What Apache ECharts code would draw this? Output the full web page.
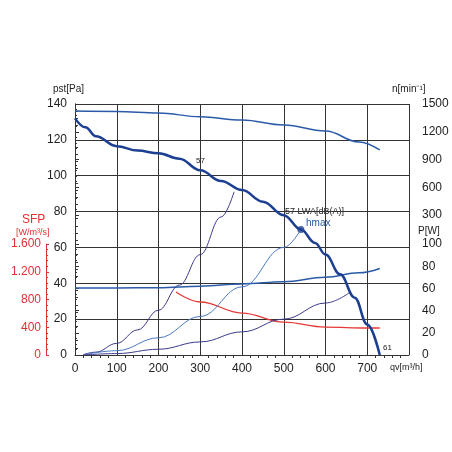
<!DOCTYPE html><html><head><meta charset="utf-8"><script src="https://cdn.jsdelivr.net/npm/echarts@6/dist/echarts.min.js"></script>
<style>html,body{margin:0;background:#fff}#c{width:452px;height:452px}</style></head><body><div id="c"></div><script>
const pressure=[[0,132],[25,127],[50,122],[100,116.5],[150,114],[200,112.5],[250,109.5],[300,103],[350,97],[400,92],[450,85.5],[500,78],[541,70],[575,62.5],[600,56],[635,45],[670,32],[700,17],[730,0]];
const speed=[[0,1424],[100,1420],[200,1403],[300,1362],[400,1327],[500,1273],[600,1208],[680,1090],[730,1003]];
const power=[[0,60.4],[100,60.4],[200,60.6],[300,62],[400,64],[500,66],[600,70],[680,74],[730,78]];
const sfp=[[242,908],[300,764],[400,605],[500,475],[600,403],[700,389],[730,389]];
const sys1=[[20,0.2],[50,1.6],[100,6.5],[150,14],[200,25],[250,39],[300,56],[350,77],[381,91]];
const sys2=[[20,0.1],[100,2.4],[200,9.6],[300,21.5],[400,38],[500,60],[541,70]];
const sys3=[[20,0],[100,0.8],[200,3.2],[300,7.3],[400,12.9],[500,20],[600,29],[659,35]];
const hmax=[[541,70]];
const F='Liberation Sans, Arial, sans-serif';
const ax={fontFamily:F,fontSize:12,color:'#222'};
const hx=i=>({gridIndex:i,type:'value',min:0,max:800,show:false});
const c=echarts.init(document.getElementById('c'));
c.setOption({animation:false,
grid:[{left:75,right:43,top:104,bottom:97},{left:75,right:43,top:104,bottom:237},{left:75,right:43,top:244,bottom:97}],
xAxis:[{gridIndex:0,type:'value',min:0,max:800,interval:100,axisLabel:{...ax,formatter:v=>v==800?'':v},
 axisLine:{lineStyle:{color:'#333'}},axisTick:{show:true,length:-4,lineStyle:{color:'#333'}},minorTick:{show:true,splitNumber:5,length:3,lineStyle:{color:'#333'}},
 splitLine:{show:true,lineStyle:{color:'#333',width:1}}},hx(1),hx(2)],
yAxis:[{gridIndex:0,type:'value',min:0,max:140,interval:20,axisLabel:{...ax},axisLine:{show:true,lineStyle:{color:'#333'}},axisTick:{show:true,length:4,inside:true,lineStyle:{color:'#333'}},minorTick:{show:true,splitNumber:5,length:3,lineStyle:{color:'#333'}},splitLine:{show:true,lineStyle:{color:'#333',width:1}}},
 {gridIndex:1,type:'value',position:'right',offset:9,min:300,max:1500,interval:300,axisLabel:{...ax,margin:4,formatter:v=>String(v)},axisLine:{show:true,lineStyle:{color:'#333'}},axisTick:{show:true,length:4,lineStyle:{color:'#333'}},minorTick:{show:true,splitNumber:5,length:2,lineStyle:{color:'#333'}},splitLine:{show:false}},
 {gridIndex:2,type:'value',position:'right',offset:9,min:0,max:100,interval:20,axisLabel:{...ax,margin:4},axisLine:{show:true,lineStyle:{color:'#333'}},axisTick:{show:true,length:4,lineStyle:{color:'#333'}},minorTick:{show:true,splitNumber:4,length:2,lineStyle:{color:'#333'}},splitLine:{show:false}},
 {gridIndex:2,type:'value',position:'left',offset:29,min:0,max:1600,interval:400,axisLabel:{...ax,color:'#e03030',margin:5,formatter:v=>v>=1000?(v/1000).toFixed(3):String(v)},axisLine:{show:true,lineStyle:{color:'#e03030'}},axisTick:{show:true,length:3,inside:true,lineStyle:{color:'#e03030'}},minorTick:{show:true,splitNumber:5,length:2,lineStyle:{color:'#e03030'}},splitLine:{show:false}}],
series:[
 {type:'line',xAxisIndex:1,yAxisIndex:1,data:speed,smooth:0.4,smoothMonotone:'x',symbol:'none',lineStyle:{color:'#2a5aa8',width:1.5}},
 {type:'line',xAxisIndex:2,yAxisIndex:2,data:power,smooth:0.4,smoothMonotone:'x',symbol:'none',lineStyle:{color:'#2a5aa8',width:1.5}},
 {type:'line',xAxisIndex:2,yAxisIndex:3,data:sfp,smooth:0.4,smoothMonotone:'x',symbol:'none',lineStyle:{color:'#e53935',width:1.3}},
 {type:'line',data:sys1,smooth:0.4,smoothMonotone:'x',symbol:'none',lineStyle:{color:'#3c3a8c',width:1}},
 {type:'line',data:sys2,smooth:0.4,smoothMonotone:'x',symbol:'none',lineStyle:{color:'#4a78c0',width:1}},
 {type:'line',data:sys3,smooth:0.4,smoothMonotone:'x',symbol:'none',lineStyle:{color:'#3c3a8c',width:1}},
 {type:'line',data:pressure,smooth:0.4,smoothMonotone:'x',symbol:'none',lineStyle:{color:'#1c3f91',width:2.5}},
 {type:'scatter',data:hmax,symbolSize:7,itemStyle:{color:'#1c3f91'}}],
graphic:[
 {type:'text',left:53,top:84,style:{text:'pst[Pa]',font:'10px '+F,fill:'#222'}},
 {type:'text',left:392,top:84,style:{text:'n[min⁻¹]',font:'10px '+F,fill:'#222'}},
 {type:'text',left:418,top:226,style:{text:'P[W]',font:'10px '+F,fill:'#222'}},
 {type:'text',left:390,top:363,style:{text:'qv[m³/h]',font:'9px '+F,fill:'#222'}},
 {type:'text',left:22,top:214,style:{text:'SFP',font:'12px '+F,fill:'#e03030'}},
 {type:'text',left:16,top:228,style:{text:'[W/m³/s]',font:'9px '+F,fill:'#e03030'}},
 {type:'text',left:196,top:157,style:{text:'57',font:'8px '+F,fill:'#222'}},
 {type:'text',left:285,top:207,style:{text:'57 LWA[dB(A)]',font:'9px '+F,fill:'#222'}},
 {type:'text',left:306,top:218,style:{text:'hmax',font:'10px '+F,fill:'#2a5aa8'}},
 {type:'text',left:383,top:344,style:{text:'61',font:'8px '+F,fill:'#222'}}
]});
</script></body></html>
